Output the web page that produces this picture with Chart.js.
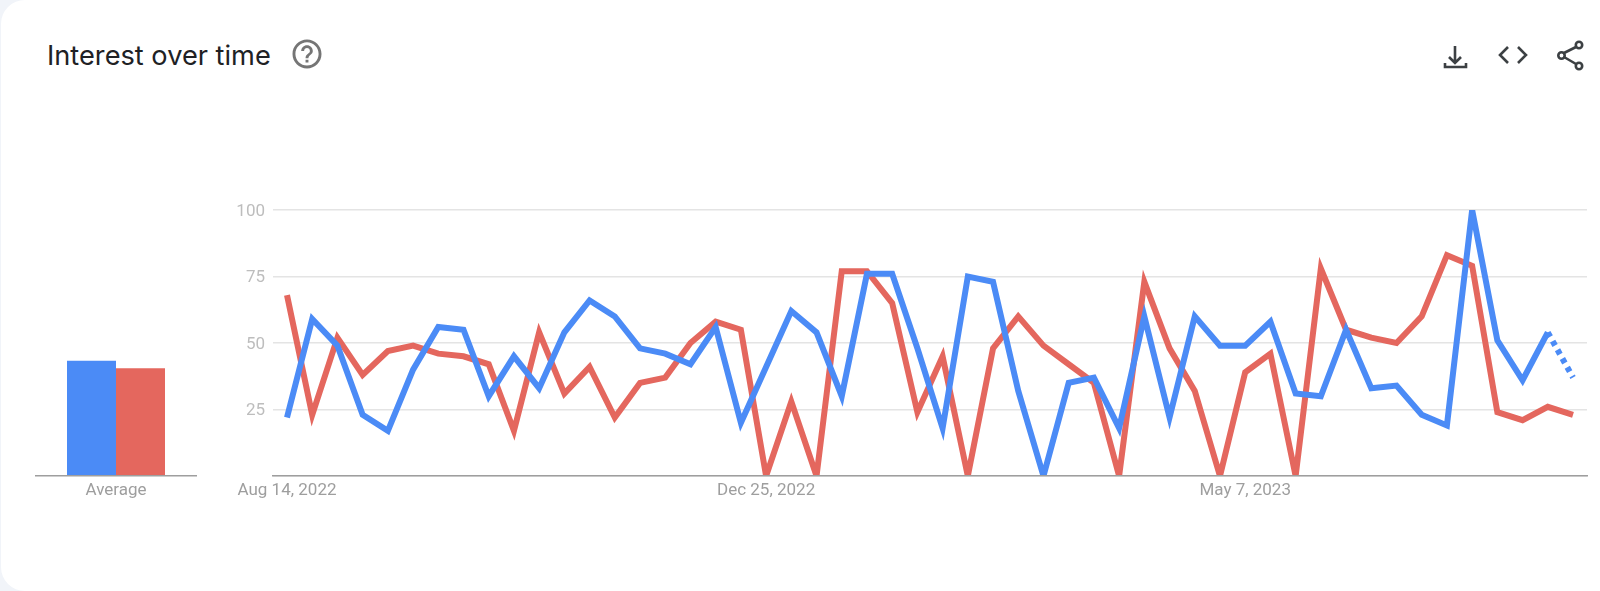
<!DOCTYPE html>
<html>
<head>
<meta charset="utf-8">
<title>Interest over time</title>
<script src="https://cdn.jsdelivr.net/npm/chart.js@4"></script>
<style>
html, body { margin: 0; padding: 0; width: 1600px; height: 591px; overflow: hidden; background: #f1f4f9; }
#card { position: absolute; left: 1px; top: 0; width: 1599px; height: 591px; background: #fff; border-radius: 24px 0 0 24px; }
#title { position: absolute; left: 47px; top: 39px; font: 400 27.2px Inter, sans-serif; color: #202124; white-space: nowrap; }
canvas { position: absolute; left: 0; top: 0; }
svg { position: absolute; left: 0; top: 0; }
</style>
</head>
<body>
<div id="card"></div>
<div id="title">Interest over time</div>
<svg width="1600" height="120" fill="none" stroke="#3c4043" stroke-width="2.6">
  <path transform="translate(289.6,36.5) scale(1.45)" fill="#757575" stroke="none" d="M11 18h2v-2h-2v2zm1-16C6.48 2 2 6.48 2 12s4.48 10 10 10 10-4.48 10-10S17.52 2 12 2zm0 18c-4.41 0-8-3.59-8-8s3.59-8 8-8 8 3.59 8 8-3.59 8-8 8zm0-14c-2.21 0-4 1.79-4 4h2c0-1.1.9-2 2-2s2 .9 2 2c0 2-3 1.75-3 5h2c0-2.25 3-2.5 3-5 0-2.21-1.79-4-4-4z"/>
  <path d="M1455 46V63M1449 57L1455 63L1461 57M1445 63V67H1466V63"/>
  <path d="M1508 47L1500 55L1508 63M1518 47L1526 55L1518 63"/>
  <path d="M1564 53L1576 47M1564 57L1576 64"/>
  <circle cx="1579" cy="45" r="3.2"/><circle cx="1561.5" cy="55.5" r="3.2"/><circle cx="1579" cy="66" r="3.2"/>
</svg>
<canvas id="avgChart" width="210" height="591"></canvas>
<canvas id="lineChart" width="1600" height="591"></canvas>
<script>
const weeks = ['Aug 14, 2022','Aug 21, 2022','Aug 28, 2022','Sep 4, 2022','Sep 11, 2022','Sep 18, 2022','Sep 25, 2022','Oct 2, 2022','Oct 9, 2022','Oct 16, 2022',
  'Oct 23, 2022','Oct 30, 2022','Nov 6, 2022','Nov 13, 2022','Nov 20, 2022','Nov 27, 2022','Dec 4, 2022','Dec 11, 2022','Dec 18, 2022','Dec 25, 2022',
  'Jan 1, 2023','Jan 8, 2023','Jan 15, 2023','Jan 22, 2023','Jan 29, 2023','Feb 5, 2023','Feb 12, 2023','Feb 19, 2023','Feb 26, 2023','Mar 5, 2023',
  'Mar 12, 2023','Mar 19, 2023','Mar 26, 2023','Apr 2, 2023','Apr 9, 2023','Apr 16, 2023','Apr 23, 2023','Apr 30, 2023','May 7, 2023','May 14, 2023',
  'May 21, 2023','May 28, 2023','Jun 4, 2023','Jun 11, 2023','Jun 18, 2023','Jun 25, 2023','Jul 2, 2023','Jul 9, 2023','Jul 16, 2023','Jul 23, 2023',
  'Jul 30, 2023','Aug 6, 2023']
const blue = [22,59,49,23,17,40,56,55,30,45,33,54,66,60,48,46,42,56,20,41,62,54,30,76,76,48,18,75,73,32,0,35,37,18,60,22,60,49,49,58,31,30,55,33,34,23,19,100,51,36,54,37]
const red = [68,23,52,38,47,49,46,45,42,17,54,31,41,22,35,37,50,58,55,0,28,0,77,77,65,24,45,0,48,60,49,42,35,0,73,48,32,0,39,46,0,78,55,52,50,60,83,79,24,21,26,23]
const xTickIndexes = [0,19,38]
const yTicks = [0,25,50,75,100]
const avgLabels = ['Average']
const avgBlue = [43.3]
const avgRed = [40.5]

const blueColor = '#4b8bf6'
const redColor = '#e4675e'
const axisFont = { family: 'Roboto', size: 17 }

new Chart(document.getElementById('avgChart'), {
  type: 'bar',
  data: {
    labels: avgLabels,
    datasets: [
      { data: avgBlue, backgroundColor: blueColor, barPercentage: 1, categoryPercentage: 0.6125 },
      { data: avgRed, backgroundColor: redColor, barPercentage: 1, categoryPercentage: 0.6125 }
    ]
  },
  options: {
    responsive: false,
    animation: false,
    layout: { padding: { left: 36, right: 14, top: 210, bottom: 75 } },
    plugins: { legend: { display: false }, tooltip: { enabled: false } },
    scales: {
      x: {
        grid: { display: false },
        border: { color: '#9e9e9e', width: 1.5, z: 1 },
        ticks: { color: '#9e9e9e', font: axisFont, padding: -3, maxRotation: 0 },
        afterFit: s => { s.height = 40 }
      },
      y: { display: false, min: 0, max: 100 }
    }
  }
})

new Chart(document.getElementById('lineChart'), {
  type: 'line',
  data: {
    datasets: [
      {
        data: blue.map((v, i) => ({ x: i, y: v })),
        borderColor: blueColor,
        segment: { borderDash: c => c.p1DataIndex === blue.length - 1 ? [5, 5] : undefined }
      },
      {
        data: red.map((v, i) => ({ x: i, y: v })),
        borderColor: redColor
      }
    ]
  },
  options: {
    responsive: false,
    animation: false,
    elements: { point: { radius: 0 }, line: { borderWidth: 6, tension: 0 } },
    layout: { padding: { left: 0, right: 13, top: 210, bottom: 75 } },
    plugins: { legend: { display: false }, tooltip: { enabled: false } },
    scales: {
      x: {
        type: 'linear',
        min: -0.555,
        max: 51.555,
        grid: { display: false },
        border: { color: '#9e9e9e', width: 1.5, z: 1 },
        afterBuildTicks: s => { s.ticks = xTickIndexes.map(i => ({ value: i })) },
        afterFit: s => { s.height = 40 },
        ticks: {
          color: '#9e9e9e',
          font: axisFont,
          padding: -3,
          maxRotation: 0,
          autoSkip: false,
          callback: v => weeks[v]
        }
      },
      y: {
        min: 0,
        max: 100,
        grid: { color: '#e4e4e4', lineWidth: 1.5, drawTicks: false },
        border: { display: false },
        afterBuildTicks: s => { s.ticks = yTicks.map(v => ({ value: v })) },
        afterFit: s => { s.width = 273 },
        ticks: {
          color: '#bdbdbd',
          font: axisFont,
          padding: 8,
          labelOffset: 1.5,
          callback: v => v === 0 ? '' : v
        }
      }
    }
  }
})
</script>
</body>
</html>
